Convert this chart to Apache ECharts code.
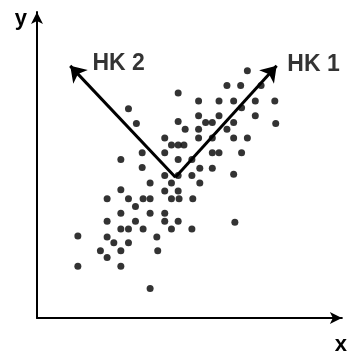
<!DOCTYPE html>
<html>
<head>
<meta charset="utf-8">
<script src="https://cdn.jsdelivr.net/npm/echarts@6/dist/echarts.min.js"></script>
<style>html,body{margin:0;padding:0;background:#fff}#c{width:350px;height:356px}</style>
</head>
<body>
<div id="c"></div>
<script>
// Data (arbitrary units, axes 0..100)
const pointsX = [69.0,62.3,66.8,73.5,46.3,53.0,59.7,64.5,71.6,78.0,67.1,30.0,53.0,59.7,71.6,46.3,32.6,55.3,57.5,64.5,78.3,48.6,53.0,62.3,41.9,53.0,57.5,64.5,69.0,44.1,46.3,48.2,34.5,41.9,57.5,59.7,67.1,27.5,46.3,50.8,34.5,53.4,57.5,41.9,46.3,50.8,64.5,37.1,44.1,53.4,27.5,41.9,46.3,23.0,30.0,34.8,37.1,44.1,46.6,51.1,32.3,27.5,37.1,41.9,23.0,32.3,41.9,46.3,64.9,27.5,30.0,34.8,44.1,50.8,13.4,23.0,39.3,25.2,30.0,20.8,27.5,39.6,23.0,13.4,27.5,37.1];
const pointsY = [80.8,76.0,76.0,76.0,73.5,70.9,70.9,70.9,70.9,70.9,68.7,68.4,66.1,66.1,66.1,64.2,63.6,63.9,63.9,63.9,63.6,61.7,61.7,61.7,58.8,58.8,58.8,58.8,58.8,56.5,56.5,56.5,54.0,54.0,54.0,54.0,54.0,51.8,51.8,51.8,49.2,48.9,48.9,46.6,46.6,46.6,47.0,44.1,44.1,44.1,41.9,41.5,41.5,39.0,39.0,39.0,39.0,39.0,39.0,39.0,36.4,34.2,34.2,34.2,31.6,31.6,31.6,31.6,31.3,29.1,29.1,29.1,29.1,29.1,26.8,26.5,26.5,24.6,24.6,22.0,22.0,22.0,19.8,16.9,16.9,9.6];
const pcOrigin = [45.4, 46.0];
const pcTips = [[78.6, 82.4], [10.9, 82.4]];
const pcNames = ['HK 1', 'HK 2'];
const pcLabelPos = [[90.7, 82.7], [26.8, 83.1]];
const axisNames = ['x', 'y'];

const chart = echarts.init(document.getElementById('c'), null, {renderer: 'canvas'});
const font = 'Liberation Sans, Arial, sans-serif';
const scatterData = pointsX.map((x, i) => [x, pointsY[i]]);
const linesData = pcTips.map(t => ({coords: [pcOrigin, t]}));
const labelData = pcLabelPos.map((p, i) => ({value: p, name: pcNames[i]}));

chart.setOption({
  animation: false,
  backgroundColor: '#fff',
  grid: {left: 37, top: 12, width: 313, height: 313, containLabel: false},
  xAxis: {
    type: 'value', min: 0, max: 100,
    name: axisNames[0], nameLocation: 'end', nameGap: -1,
    nameTextStyle: {fontFamily: font, fontWeight: 'bold', fontSize: 22, color: '#000', align: 'center', verticalAlign: 'top', padding: [16, 0, 0, 0]},
    axisLine: {show: true, lineStyle: {color: '#000', width: 2}, symbol: ['none', 'arrow'], symbolSize: [9, 12]},
    axisTick: {show: false}, axisLabel: {show: false}, splitLine: {show: false}
  },
  yAxis: {
    type: 'value', min: 0, max: 100,
    name: axisNames[1], nameLocation: 'end', nameGap: -7,
    nameTextStyle: {fontFamily: font, fontWeight: 'bold', fontSize: 22, color: '#000', align: 'right', verticalAlign: 'middle', padding: [0, 10, 0, 0]},
    axisLine: {show: true, lineStyle: {color: '#000', width: 2}, symbol: ['none', 'arrow'], symbolSize: [9, 12]},
    axisTick: {show: false}, axisLabel: {show: false}, splitLine: {show: false}
  },
  series: [
    {
      type: 'lines', coordinateSystem: 'cartesian2d', polyline: false,
      symbol: ['none', 'arrow'], symbolSize: 15,
      lineStyle: {color: '#000', width: 3, opacity: 1, curveness: 0},
      data: linesData, z: 3
    },
    {
      type: 'scatter', symbol: 'circle', symbolSize: 7,
      itemStyle: {color: '#000'}, data: scatterData, z: 4
    },
    {
      type: 'scatter', symbolSize: 0, data: labelData, z: 5,
      label: {show: true, position: 'inside', formatter: p => p.name, fontFamily: font, fontWeight: 'bold', fontSize: 23, color: '#000'}
    }
  ]
});
</script>
</body>
</html>
